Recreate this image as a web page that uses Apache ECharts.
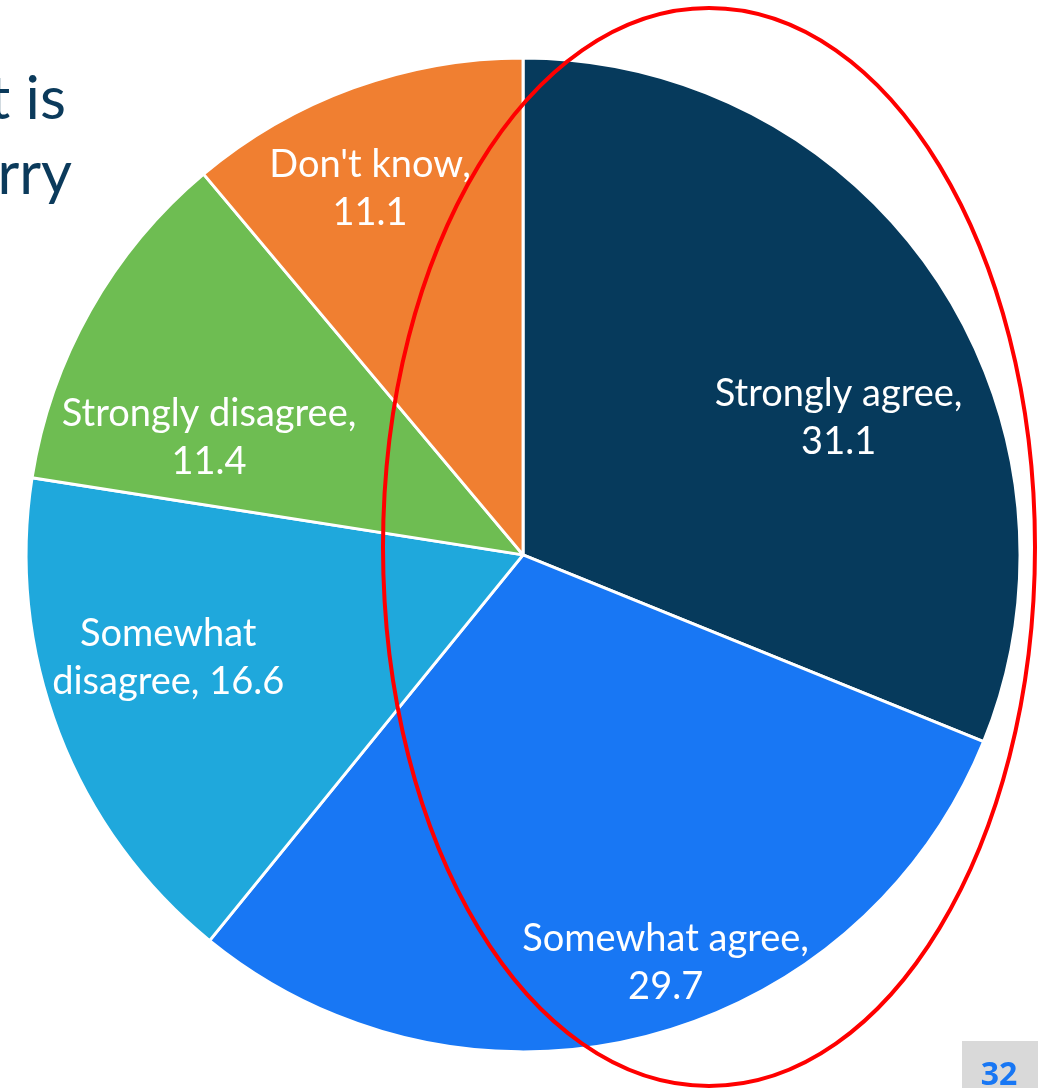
<!DOCTYPE html>
<html>
<head>
<meta charset="utf-8">
<script src="https://cdn.jsdelivr.net/npm/echarts@6/dist/echarts.min.js"></script>
<style>
html,body{margin:0;padding:0;background:#fff;}
#chart{width:1038px;height:1088px;}
</style>
</head>
<body>
<div id="chart"></div>
<script>
// Data
const categories = ["Strongly agree", "Somewhat agree", "Somewhat disagree", "Strongly disagree", "Don't know"];
const values = [31.1, 29.7, 16.6, 11.4, 11.1];
const colors = ["#063A5C", "#1877F4", "#1FA8DC", "#6EBD52", "#F07F31"];
const labelTexts = ["Strongly agree,\n31.1", "Somewhat agree,\n29.7", "Somewhat\ndisagree, 16.6", "Strongly disagree,\n11.4", "Don't know,\n11.1"];
const titleLines = ["t is", "rry"];
const pageNumber = "32";

// label nudges from default inside position (style)
const labelShift = [[107, 3], [80, 164], [-120, 13], [-95, 7], [-67, -130]];

const chart = echarts.init(document.getElementById('chart'), null, {renderer: 'canvas'});
const font = 'Lato, "Open Sans", sans-serif';

const option = {
  animation: false,
  backgroundColor: '#ffffff',
  graphic: [
    {type: 'text', x: 66, y: 130, style: {text: titleLines[0], fontSize: 60, fontFamily: font, fill: '#0B3A5B', textAlign: 'right', textVerticalAlign: 'bottom'}},
    {type: 'text', x: 72, y: 205, style: {text: titleLines[1], fontSize: 60, fontFamily: font, fill: '#0B3A5B', textAlign: 'right', textVerticalAlign: 'bottom'}},
    {type: 'rect', shape: {x: 962, y: 1041, width: 76, height: 47}, style: {fill: '#D9D9D9'}},
    {type: 'text', x: 999, y: 1076, style: {text: pageNumber, fontSize: 32, fontWeight: 'bold', fontFamily: '"Open Sans", sans-serif', fill: '#1877F4', textAlign: 'center', textVerticalAlign: 'middle'}},
    {type: 'ellipse', shape: {cx: 709, cy: 547, rx: 326, ry: 539}, style: {fill: 'none', stroke: '#FF0000', lineWidth: 4}, z: 100}
  ],
  series: [{
    type: 'pie',
    center: ['50.39%', '51.0%'],
    radius: 497,
    startAngle: 90,
    clockwise: true,
    avoidLabelOverlap: false,
    label: {
      show: true,
      position: 'inside',
      color: '#ffffff',
      fontFamily: font,
      fontSize: 38,
      lineHeight: 48,
      align: 'center',
      formatter: p => labelTexts[p.dataIndex]
    },
    labelLine: {show: false},
    labelLayout: p => ({dx: labelShift[p.dataIndex][0], dy: labelShift[p.dataIndex][1]}),
    itemStyle: {borderColor: '#ffffff', borderWidth: 3},
    emphasis: {disabled: true},
    data: categories.map((c, i) => ({name: c, value: values[i], itemStyle: {color: colors[i]}}))
  }]
};
chart.setOption(option);
</script>
</body>
</html>
